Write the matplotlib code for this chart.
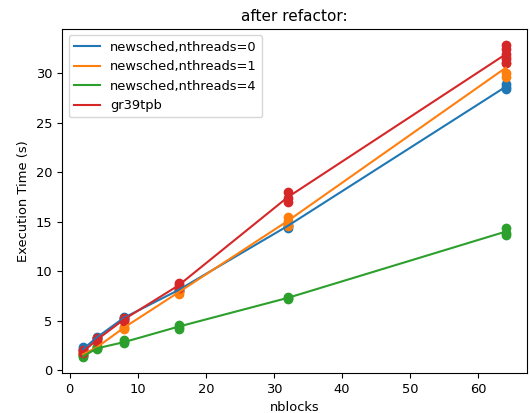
import numpy as np
import matplotlib.pyplot as plt

nblocks = [2, 4, 8, 16, 32, 64]
labels = ['newsched,nthreads=0', 'newsched,nthreads=1', 'newsched,nthreads=4', 'gr39tpb']

# several runs per nblocks value
runs_nt0 = [[2.0, 2.1, 2.3], [3.2, 3.3, 3.4], [5.2, 5.3, 5.4], [8.0, 8.1, 8.2], [14.4, 14.6, 14.7], [28.4, 28.6, 28.9]]
runs_nt1 = [[1.5, 1.6, 1.7], [2.2, 2.3, 2.4], [4.2, 4.3, 4.4], [7.7, 7.9, 8.0], [14.6, 15.1, 15.5], [29.6, 30.0, 31.0, 31.6]]
runs_nt4 = [[1.3, 1.4, 1.5], [2.1, 2.2, 2.3], [2.7, 2.8, 3.0], [4.2, 4.4, 4.6], [7.2, 7.3, 7.4], [13.7, 13.9, 14.4]]
runs_gr = [[1.7, 1.9, 2.0], [2.9, 3.1, 3.2], [5.0, 5.1, 5.3], [8.3, 8.6, 8.8], [17.0, 17.4, 18.0], [31.0, 31.4, 31.9, 32.4, 32.9]]

all_runs = [runs_nt0, runs_nt1, runs_nt4, runs_gr]
colors = ['C0', 'C1', 'C2', 'C3']

plt.rcParams['font.size'] = 9.4

fig, ax = plt.subplots(figsize=(5.3, 4.13), dpi=100)
for runs, lab, c in zip(all_runs, labels, colors):
    means = [np.mean(r) for r in runs]
    ax.plot(nblocks, means, color=c, label=lab)
    for x, r in zip(nblocks, runs):
        ax.scatter([x] * len(r), r, color=c, s=36)

ax.set_title('after refactor:', fontsize=11)
ax.set_xlabel('nblocks')
ax.set_ylabel('Execution Time (s)')
ax.legend(loc='upper left')
plt.subplots_adjust(left=0.117, right=0.994, top=0.93, bottom=0.097)
plt.savefig('out.png')
